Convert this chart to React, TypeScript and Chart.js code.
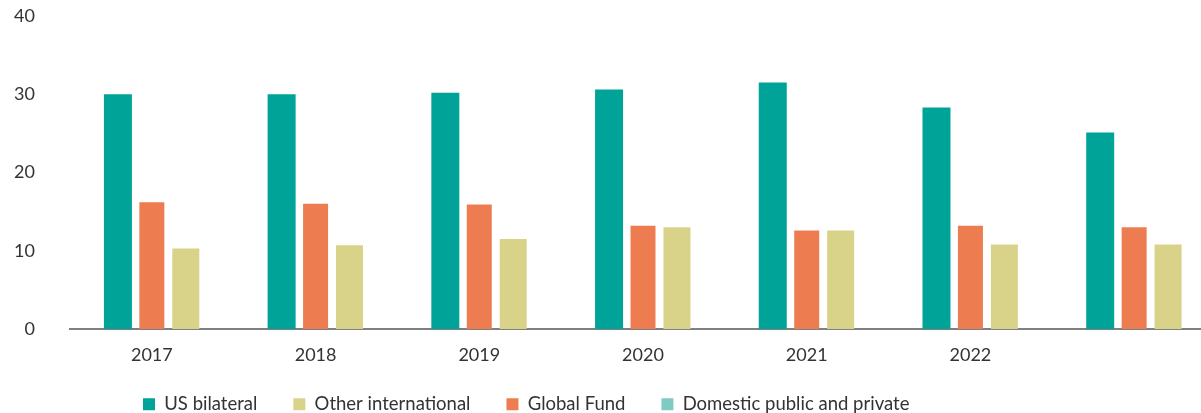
import React, { useEffect, useRef } from "react";
import { Chart, registerables } from "chart.js";

Chart.register(...registerables);

const categories = ["2017", "2018", "2019", "2020", "2021", "2022", ""];
const usBilateral = [30.0, 30.0, 30.2, 30.6, 31.5, 28.3, 25.1];
const globalFund = [16.2, 16.0, 15.9, 13.2, 12.6, 13.2, 13.0];
const otherInternational = [10.3, 10.7, 11.5, 13.0, 12.6, 10.8, 10.8];
const domestic: (number | null)[] = [];
const yTicks = [0, 10, 20, 30, 40];

const FONT = "Lato";
const TEXT = "#333333";

export default function App() {
  const ref = useRef<HTMLCanvasElement | null>(null);

  useEffect(() => {
    if (!ref.current) return;
    const legendRank = [0, 2, 1, 3];
    const legendPos = {
      id: "legendPos",
      afterLayout(chart: any) {
        const lg = chart.legend;
        if (!lg) return;
        const pad = lg.options.labels.padding;
        lg.left = 143 - pad;
        lg.top = 404 - pad - 9;
        lg.bottom = 413;
      },
    };
    const chart = new Chart(ref.current, {
      type: "bar",
      data: {
        labels: categories,
        datasets: [
          { label: "US bilateral", data: usBilateral, backgroundColor: "#00A398", borderWidth: 0, maxBarThickness: 28 },
          { label: "Global Fund", data: globalFund, backgroundColor: "#EE7C51", borderWidth: 0, maxBarThickness: 25 },
          { label: "Other international", data: otherInternational, backgroundColor: "#D9D289", borderWidth: 0, maxBarThickness: 27 },
          { type: "line", label: "Domestic public and private", data: domestic, backgroundColor: "#7ECBC4", borderColor: "#7ECBC4", borderWidth: 0, pointRadius: 0 } as any,
        ],
      },
      options: {
        responsive: false,
        devicePixelRatio: 1,
        animation: false,
        layout: { padding: { top: 16, left: 0, right: 0, bottom: 0 } },
        datasets: { bar: { categoryPercentage: 0.622, barPercentage: 1 } },
        plugins: {
          tooltip: { enabled: false },
          legend: {
            position: "bottom",
            align: "start",
            maxHeight: 44,
            labels: {
              boxWidth: 12, boxHeight: 12, padding: 36, color: TEXT,
              font: { family: FONT, size: 18.5 },
              sort: (a: any, b: any) => legendRank[a.datasetIndex] - legendRank[b.datasetIndex],
            },
          },
        },
        scales: {
          x: {
            z: 1,
            grid: { display: false, drawTicks: false },
            border: { display: true, color: "#808080", width: 2 },
            ticks: { color: TEXT, font: { family: FONT, size: 18 }, padding: 15, maxRotation: 0 },
            afterFit: (s: any) => { s.height = 40; },
          },
          y: {
            min: 0, max: 40,
            grid: { display: false, drawTicks: false },
            border: { display: false },
            afterBuildTicks: (s: any) => { s.ticks = yTicks.map((v) => ({ value: v })); },
            ticks: { color: TEXT, font: { family: FONT, size: 18 }, padding: 35 },
            afterFit: (s: any) => {
              s.width = 70;
              s.paddingTop = 0;
              s.paddingBottom = 0;
            },
          },
        },
      },
      plugins: [legendPos],
    });
    return () => chart.destroy();
  }, []);

  return (
    <div style={{ position: "absolute", left: 0, top: 0, width: 1201, height: 413, overflow: "hidden", background: "#fff" }}>
      <canvas ref={ref} width={1216} height={413} style={{ display: "block" }} />
    </div>
  );
}
